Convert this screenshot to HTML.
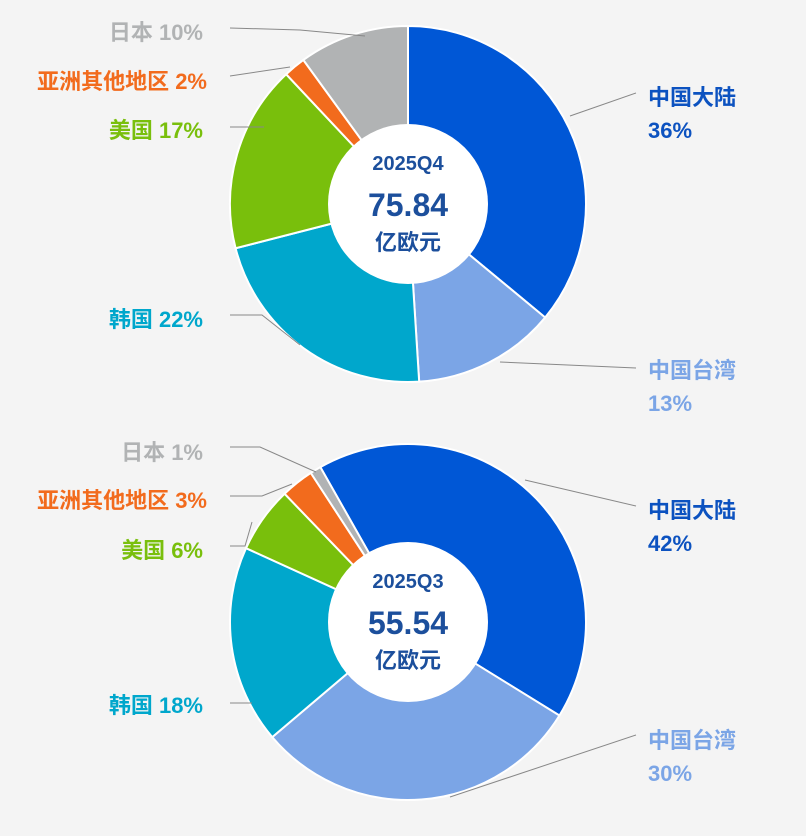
<!DOCTYPE html>
<html><head><meta charset="utf-8">
<style>
html,body{margin:0;padding:0;background:#f4f4f4;}
svg{display:block;font-family:"Liberation Sans","Noto Sans CJK SC",sans-serif;}
</style></head>
<body>
<svg id="chart" width="806" height="836" viewBox="0 0 806 836"></svg>
<script>
const categories = ["中国大陆","中国台湾","韩国","美国","亚洲其他地区","日本"];
const colors = ["#0057d6","#7ba5e6","#00a7cc","#79bf0c","#f26b1d","#b1b3b4"];
const q4Values = [36,13,22,17,2,10];
const q3Values = [42,30,18,6,3,1];
const q4Title = "2025Q4", q4Total = "75.84";
const q3Title = "2025Q3", q3Total = "55.54";

const NS = "http://www.w3.org/2000/svg";
const svg = document.getElementById("chart");
function mk(tag, attrs, parent){
  const e = document.createElementNS(NS, tag);
  for (const k in attrs) e.setAttribute(k, attrs[k]);
  (parent||svg).appendChild(e);
  return e;
}
function pt(cx, cy, r, deg){
  const a = deg*Math.PI/180;
  return [cx + r*Math.sin(a), cy - r*Math.cos(a)];
}
function donut(cx, cy, R, r, values, startDeg, title, total, key){
  const g = mk("g", {});
  
  
  const sum = values.reduce((a,b)=>a+b,0);
  let a0 = startDeg;
  values.forEach((v,i)=>{
    const a1 = a0 + v/sum*360;
    const large = (a1-a0) > 180 ? 1 : 0;
    const p0 = pt(cx,cy,R,a0), p1 = pt(cx,cy,R,a1);
    const d = `M${cx},${cy} L${p0[0]},${p0[1]} A${R},${R} 0 ${large} 1 ${p1[0]},${p1[1]} Z`;
    const s = mk("path", {d:d, fill:colors[i], stroke:"#ffffff", "stroke-width":2}, g);
    
    
    a0 = a1;
  });
  const c = mk("circle", {cx:cx, cy:cy, r:r, fill:"#ffffff"}, g);
  
  
  const t1 = mk("text", {x:cx, y:cy-34, "text-anchor":"middle", "font-size":20, "font-weight":"bold", fill:"#1c4f9c"}, g);
  t1.textContent = title;
  
  
  const t2 = mk("text", {x:cx, y:cy+12, "text-anchor":"middle", "font-size":32, "font-weight":"bold", fill:"#1c4f9c"}, g);
  t2.textContent = total;
  
  
  const t3 = mk("text", {x:cx, y:cy+46, "text-anchor":"middle", "font-size":22, "font-weight":"bold", fill:"#1c4f9c"}, g);
  t3.textContent = "亿欧元";
  
  
}
donut(408, 204, 178, 80, q4Values, 0, q4Title, q4Total, "q4");
donut(408, 622, 178, 80, q3Values, -29.5, q3Title, q3Total, "q3");

function label(lines, x, y, anchor, color, line, name){
  const l = mk("polyline", {points:line, fill:"none", stroke:"#888", "stroke-width":1});
  
  
  lines.forEach((txt,k)=>{
    const t = mk("text", {x:x, y:y+k*33, "text-anchor":anchor, "font-size":22, "font-weight":"bold", fill:color});
    t.textContent = txt;
    
    
  });
}
label(["日本 "+q4Values[5]+"%"], 203, 40, "end", colors[5], "230,28 300,30 365,36", "q4-japan");
label(["亚洲其他地区 "+q4Values[4]+"%"], 207, 89, "end", colors[4], "230,76 290,67", "q4-other-asia");
label(["美国 "+q4Values[3]+"%"], 203, 138, "end", colors[3], "230,127 264,127", "q4-usa");
label(["韩国 "+q4Values[2]+"%"], 203, 327, "end", colors[2], "230,315 262,315 300,345", "q4-korea");
label(["中国大陆", q4Values[0]+"%"], 648, 105, "start", "#0c52c0", "570,116 636,93", "q4-mainland");
label(["中国台湾", q4Values[1]+"%"], 648, 378, "start", "#7ba5e6", "500,362 636,368", "q4-taiwan");
label(["日本 "+q3Values[5]+"%"], 203, 460, "end", colors[5], "230,447 260,447 316,472", "q3-japan");
label(["亚洲其他地区 "+q3Values[4]+"%"], 207, 508, "end", colors[4], "230,496 262,496 292,484", "q3-other-asia");
label(["美国 "+q3Values[3]+"%"], 203, 558, "end", colors[3], "230,546 245,546 252,522", "q3-usa");
label(["韩国 "+q3Values[2]+"%"], 203, 713, "end", colors[2], "230,703 252,703", "q3-korea");
label(["中国大陆", q3Values[0]+"%"], 648, 518, "start", "#0c52c0", "525,480 636,506", "q3-mainland");
label(["中国台湾", q3Values[1]+"%"], 648, 748, "start", "#7ba5e6", "450,797 636,735", "q3-taiwan");
</script>
</body></html>
